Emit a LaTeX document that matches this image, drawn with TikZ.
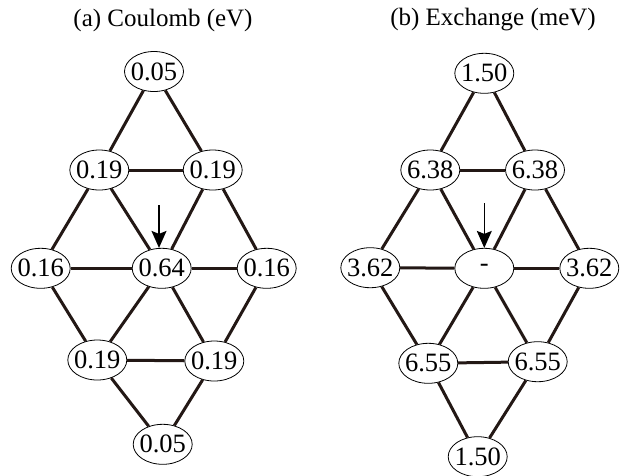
\documentclass[tikz,border=0pt]{standalone}
\usepackage{fontspec}
\setmainfont{Liberation Serif}
\usetikzlibrary{shapes.geometric,arrows.meta}
\definecolor{bondcol}{HTML}{231815}
\newcommand{\val}[1]{\makebox[30pt]{#1}}

\begin{document}
\begin{tikzpicture}[x=1pt,y=-1pt,
    site/.style={ellipse,draw,line width=0.8pt,minimum width=59pt,minimum height=40pt,
      inner sep=0pt,font=\fontsize{26.5}{28}\selectfont},
    bond/.style={draw=bondcol,line width=3pt},
    pointer/.style={line width=1.4pt,-{Stealth[length=17pt,width=15pt,inset=3pt]}},
    caption/.style={font=\fontsize{25}{28}\selectfont}]
    \useasboundingbox (0,0) rectangle (623,475);

    % (a) Coulomb
    \node[caption] (aTitle) at (163,20) {(a) Coulomb (eV)};
    \node[site] (aT)  at (154,71.5)    {\val{0.05}};
    \node[site] (aL1) at (99.3,170)    {\val{0.19}};
    \node[site] (aR1) at (212.7,170)   {\val{0.19}};
    \node[site] (aL2) at (40.7,268.3)  {\val{0.16}};
    \node[site] (aC)  at (161.7,268.3) {\val{0.64}};
    \node[site] (aR2) at (266.7,268.3) {\val{0.16}};
    \node[site] (aL3) at (97.3,360)    {\val{0.19}};
    \node[site] (aR3) at (214.3,361)   {\val{0.19}};
    \node[site] (aB)  at (162.7,444.3) {\val{0.05}};
    \coordinate (aA) at (159,205);

    % (b) Exchange
    \node[caption] (bTitle) at (493,20) {(b) Exchange (meV)};
    \node[site] (bT)  at (484.3,73.3)  {\val{1.50}};
    \node[site] (bL1) at (430.3,170)   {\val{6.38}};
    \node[site] (bR1) at (535,170)     {\val{6.38}};
    \node[site] (bL2) at (370.3,267.7) {\val{3.62}};
    \node[site] (bC)  at (484.3,268.3) {\val{-}};
    \node[site] (bR2) at (589.3,268.3) {\val{3.62}};
    \node[site] (bL3) at (428.3,363.3) {\val{6.55}};
    \node[site] (bR3) at (537.7,361.7) {\val{6.55}};
    \node[site] (bB)  at (477.7,456.7) {\val{1.50}};
    \coordinate (bA) at (484.3,203.3);

    % bonds of both lattices
    \foreach \p in {a,b}{
      \foreach \u/\v in {T/L1, T/R1, L1/R1, L1/L2, L1/C, R1/C, R1/R2,
                         L2/C, C/R2, L2/L3, C/L3, C/R3, R2/R3, L3/R3, L3/B, R3/B}
        \draw[bond] (\p\u) -- (\p\v);
      \draw[pointer] (\p A) -- (\p A |- \p C.north);
    }
\end{tikzpicture}
\end{document}
